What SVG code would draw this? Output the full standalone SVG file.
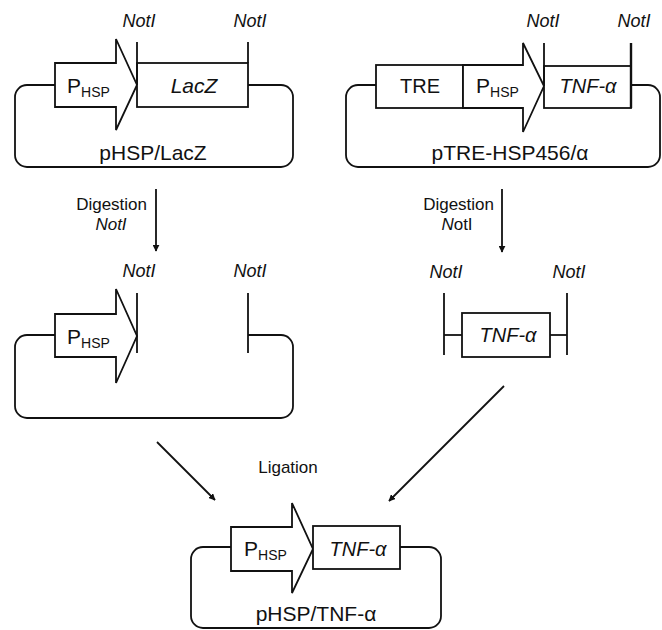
<svg xmlns="http://www.w3.org/2000/svg" width="662" height="630" viewBox="0 0 662 630">
<defs>
<marker id="ah" viewBox="0 0 10 10" refX="9" refY="5" markerWidth="7" markerHeight="7" markerUnits="userSpaceOnUse" orient="auto"><path d="M0,0 L10,5 L0,10 z" fill="#111"/></marker>
<style>
.ln{fill:none;stroke:#111;stroke-width:1.8;stroke-linejoin:miter}
.bx{fill:#fff;stroke:#111;stroke-width:1.8}
text{font-family:"Liberation Sans",Arial,sans-serif;fill:#111}
.lab{font-size:21px}
.big{font-size:21px;text-anchor:middle}
.gene{font-size:21px;font-style:italic;text-anchor:middle}
.sub{font-size:14px}
.en{font-size:18px;font-style:italic;text-anchor:middle}
.step{font-size:17px}
.con{fill:none;stroke:#111;stroke-width:1.8;marker-end:url(#ah)}
</style>
</defs>
<rect width="662" height="630" fill="#fff"/>

<g id="pHSP-LacZ">
<path class="ln" d="M55,85 H27 A12,12 0 0 0 15,97 V155 A12,12 0 0 0 27,167 H281 A12,12 0 0 0 293,155 V97 A12,12 0 0 0 281,85 H248"/>
<polygon class="bx" points="55,63 116,63 116,39 137,85 116,130 116,107 55,107"/>
<rect class="bx" x="137" y="63" width="111" height="44"/>
<line class="ln" x1="137" y1="42" x2="137" y2="85"/>
<line class="ln" x1="248" y1="42" x2="248" y2="63"/>
<text class="en" x="139" y="27">NotI</text>
<text class="en" x="250" y="27">NotI</text>
<text class="lab" x="67" y="93">P<tspan class="sub" dy="4">HSP</tspan></text>
<text class="gene" x="194" y="93">LacZ</text>
<text class="big" x="153" y="160">pHSP/LacZ</text>
</g>

<g id="pTRE-HSP456">
<path class="ln" d="M376,85 H358 A12,12 0 0 0 346,97 V155 A12,12 0 0 0 358,167 H648 A12,12 0 0 0 660,155 V97 A12,12 0 0 0 648,85 H631"/>
<rect class="bx" x="376" y="65" width="87" height="43"/>
<polygon class="bx" points="463,65 523,65 523,43 544,86 523,132 523,108 463,108"/>
<rect class="bx" x="544" y="66" width="87" height="42"/>
<line class="ln" x1="544" y1="43" x2="544" y2="86"/>
<line class="ln" x1="631" y1="43" x2="631" y2="108" style="stroke-width:2.4"/>
<text class="en" x="543" y="27">NotI</text>
<text class="en" x="634" y="27">NotI</text>
<text class="big" x="420" y="93" style="font-size:20px">TRE</text>
<text class="lab" x="476" y="93">P<tspan class="sub" dy="4">HSP</tspan></text>
<text class="gene" x="588" y="93" style="font-size:20px">TNF-α</text>
<text class="big" x="510" y="160">pTRE-HSP456/α</text>
</g>

<g id="cut-vector">
<path class="ln" d="M55,335 H27 A12,12 0 0 0 15,347 V406 A12,12 0 0 0 27,418 H281 A12,12 0 0 0 293,406 V347 A12,12 0 0 0 281,335 H248"/>
<polygon class="bx" points="55,314 116,314 116,289 137,336 116,383 116,357 55,357"/>
<line class="ln" x1="137" y1="293" x2="137" y2="353"/>
<line class="ln" x1="248" y1="293" x2="248" y2="353"/>
<text class="en" x="139" y="277">NotI</text>
<text class="en" x="250" y="277">NotI</text>
<text class="lab" x="67" y="344">P<tspan class="sub" dy="4">HSP</tspan></text>
</g>

<g id="TNF-fragment">
<line class="ln" x1="444" y1="293" x2="444" y2="355"/>
<line class="ln" x1="567" y1="293" x2="567" y2="355"/>
<line class="ln" x1="444" y1="335" x2="462" y2="335"/>
<line class="ln" x1="550" y1="335" x2="567" y2="335"/>
<rect class="bx" x="462" y="313" width="88" height="44"/>
<text class="en" x="446" y="278">NotI</text>
<text class="en" x="569" y="278">NotI</text>
<text class="gene" x="508" y="342" style="font-size:20px">TNF-α</text>
</g>

<g id="pHSP-TNF">
<path class="ln" d="M231,547 H203 A12,12 0 0 0 191,559 V616 A12,12 0 0 0 203,628 H429 A12,12 0 0 0 441,616 V559 A12,12 0 0 0 429,547 H400"/>
<polygon class="bx" points="231,527 292,527 292,503 313,549 292,593 292,571 231,571"/>
<rect class="bx" x="313" y="526" width="87" height="43"/>
<text class="lab" x="244" y="556">P<tspan class="sub" dy="4">HSP</tspan></text>
<text class="gene" x="358" y="556" style="font-size:20px">TNF-α</text>
<text class="big" x="316" y="621">pHSP/TNF-α</text>
</g>

<g id="connectors">
<line class="con" x1="156" y1="189" x2="156" y2="251"/>
<text class="step" x="147" y="210" text-anchor="end">Digestion</text>
<text class="step" x="111" y="230" text-anchor="middle" font-style="italic">NotI</text>
<line class="con" x1="502" y1="189" x2="502" y2="252"/>
<text class="step" x="494" y="210" text-anchor="end">Digestion</text>
<text class="step" x="457" y="230" text-anchor="middle"><tspan font-style="italic">N</tspan>otI</text>
<line class="con" x1="157" y1="442" x2="215" y2="500"/>
<line class="con" x1="504" y1="386" x2="389" y2="501"/>
<text class="step" x="288" y="473" text-anchor="middle">Ligation</text>
</g>
</svg>
